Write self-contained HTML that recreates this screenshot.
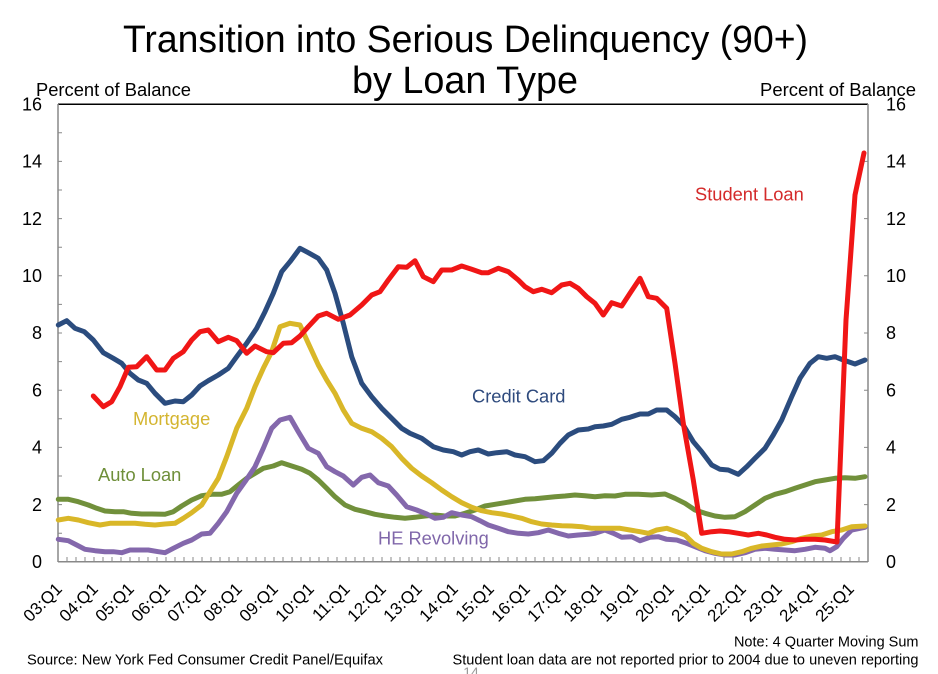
<!DOCTYPE html>
<html><head><meta charset="utf-8"><style>
html,body{margin:0;padding:0;background:#fff;}
svg{display:block;font-family:"Liberation Sans",Arial,sans-serif;}
</style></head><body>
<svg width="938" height="674" viewBox="0 0 938 674" xmlns="http://www.w3.org/2000/svg">
<rect width="938" height="674" fill="#fff"/>
<text x="465.5" y="52" font-size="38" text-anchor="middle" textLength="685" lengthAdjust="spacingAndGlyphs" fill="#000">Transition into Serious Delinquency (90+)</text>
<text x="465" y="93" font-size="38" text-anchor="middle" textLength="226" lengthAdjust="spacingAndGlyphs" fill="#000">by Loan Type</text>
<text x="36" y="96" font-size="18.5" textLength="155" lengthAdjust="spacingAndGlyphs" fill="#000">Percent of Balance</text>
<text x="760" y="96" font-size="18.5" textLength="156" lengthAdjust="spacingAndGlyphs" fill="#000">Percent of Balance</text>

<!-- axes -->
<line x1="58" y1="104.2" x2="868" y2="104.2" stroke="#000" stroke-width="1.5"/>
<line x1="58" y1="104" x2="58" y2="562" stroke="#888" stroke-width="1.5"/>
<line x1="868" y1="104" x2="868" y2="562" stroke="#888" stroke-width="1.5"/>
<line x1="58" y1="561.8" x2="868" y2="561.8" stroke="#888" stroke-width="1.5"/>
<g stroke="#888" stroke-width="1">
<path d="M58 561.8h4M58 533.2h4M58 504.6h4M58 476h4M58 447.4h4M58 418.8h4M58 390.2h4M58 361.6h4M58 333h4M58 304.4h4M58 275.8h4M58 247.2h4M58 218.6h4M58 190h4M58 161.4h4M58 132.8h4"/>
<path d="M868 504.6h-4M868 447.4h-4M868 390.2h-4M868 333h-4M868 275.8h-4M868 218.6h-4M868 161.4h-4"/>
<path d="M67 562v-5M76 562v-5M85 562v-5M94 562v-5M103 562v-5M112 562v-5M121 562v-5M130 562v-5M139 562v-5M148 562v-5M157 562v-5M166 562v-5M175 562v-5M184 562v-5M193 562v-5M202 562v-5M211 562v-5M220 562v-5M229 562v-5M238 562v-5M247 562v-5M256 562v-5M265 562v-5M274 562v-5M283 562v-5M292 562v-5M301 562v-5M310 562v-5M319 562v-5M328 562v-5M337 562v-5M346 562v-5M355 562v-5M364 562v-5M373 562v-5M382 562v-5M391 562v-5M400 562v-5M409 562v-5M418 562v-5M427 562v-5M436 562v-5M445 562v-5M454 562v-5M463 562v-5M472 562v-5M481 562v-5M490 562v-5M499 562v-5M508 562v-5M517 562v-5M526 562v-5M535 562v-5M544 562v-5M553 562v-5M562 562v-5M571 562v-5M580 562v-5M589 562v-5M598 562v-5M607 562v-5M616 562v-5M625 562v-5M634 562v-5M643 562v-5M652 562v-5M661 562v-5M670 562v-5M679 562v-5M688 562v-5M697 562v-5M706 562v-5M715 562v-5M724 562v-5M733 562v-5M742 562v-5M751 562v-5M760 562v-5M769 562v-5M778 562v-5M787 562v-5M796 562v-5M805 562v-5M814 562v-5M823 562v-5M832 562v-5M841 562v-5M850 562v-5M859 562v-5"/>
</g>

<!-- y tick labels -->
<g font-size="18" fill="#000" text-anchor="end">
<text x="42" y="568">0</text><text x="42" y="511">2</text><text x="42" y="453.5">4</text><text x="42" y="396.5">6</text>
<text x="42" y="339">8</text><text x="42" y="282">10</text><text x="42" y="225">12</text><text x="42" y="167.5">14</text><text x="42" y="110.5">16</text>
</g>
<g font-size="18" fill="#000">
<text x="886" y="568">0</text><text x="886" y="511">2</text><text x="886" y="453.5">4</text><text x="886" y="396.5">6</text>
<text x="886" y="339">8</text><text x="886" y="282">10</text><text x="886" y="225">12</text><text x="886" y="167.5">14</text><text x="886" y="110.5">16</text>
</g>

<!-- x labels -->
<g font-size="17" fill="#000" text-anchor="end">
<text transform="translate(63,590) rotate(-45)">03:Q1</text>
<text transform="translate(99,590) rotate(-45)">04:Q1</text>
<text transform="translate(135,590) rotate(-45)">05:Q1</text>
<text transform="translate(171,590) rotate(-45)">06:Q1</text>
<text transform="translate(207,590) rotate(-45)">07:Q1</text>
<text transform="translate(243,590) rotate(-45)">08:Q1</text>
<text transform="translate(279,590) rotate(-45)">09:Q1</text>
<text transform="translate(315,590) rotate(-45)">10:Q1</text>
<text transform="translate(351,590) rotate(-45)">11:Q1</text>
<text transform="translate(387,590) rotate(-45)">12:Q1</text>
<text transform="translate(423,590) rotate(-45)">13:Q1</text>
<text transform="translate(459,590) rotate(-45)">14:Q1</text>
<text transform="translate(495,590) rotate(-45)">15:Q1</text>
<text transform="translate(531,590) rotate(-45)">16:Q1</text>
<text transform="translate(567,590) rotate(-45)">17:Q1</text>
<text transform="translate(603,590) rotate(-45)">18:Q1</text>
<text transform="translate(639,590) rotate(-45)">19:Q1</text>
<text transform="translate(675,590) rotate(-45)">20:Q1</text>
<text transform="translate(711,590) rotate(-45)">21:Q1</text>
<text transform="translate(747,590) rotate(-45)">22:Q1</text>
<text transform="translate(783,590) rotate(-45)">23:Q1</text>
<text transform="translate(819,590) rotate(-45)">24:Q1</text>
<text transform="translate(855,590) rotate(-45)">25:Q1</text>
</g>

<!-- series -->
<g fill="none" stroke-width="5" stroke-linejoin="round" stroke-linecap="round">
<!-- Auto Loan -->
<polyline stroke="#71903B" points="58.3,499.3 68.3,499.3 78.3,501.7 88.3,505 96.7,508.3 105,511 115,511.7 123.3,511.7 131.7,513.3 141.7,514 151.7,514 165,514.3 173.3,511.7 181.7,506 191.7,500 201.7,495.7 211.7,494.3 221.7,494.3 230,491.7 238.3,485 246.7,478.3 255,473.3 263.3,468.3 273.3,466 281.7,462.7 291.7,466 301.7,469.3 310,473.3 318.3,480 326.7,488.3 335,496.7 345,505 355,509.3 365,511.7 375,514.3 385,516 395,517.3 405,518.3 415,517.3 425,516 435,515 445,516 455,516 465,513.3 475,510 485,506 495,504.3 505,502.7 515,501 525,499.3 535,498.7 545,497.7 555,496.7 565,496 575,495 585,495.7 595,496.7 605,495.7 615,496 625,494.3 638.3,494.3 651.7,495 665,494 675,498.3 685,503.3 695,510 705,513.3 715,516 725,517.3 735,516.7 745,511.7 755,505 765,498.3 775,494.3 785,491.7 795,488.3 805,485 815,481.7 825,480 835,478.3 845,477.7 855,478.3 865,476.7"/>
<!-- HE Revolving -->
<polyline stroke="#8468AC" points="58.3,539.3 68.3,540.7 76.7,545 85,549.3 95,550.7 105,551.7 113.3,551.7 121.7,552.7 130,550 140,550 148.3,550 158.3,551.7 165,552.7 173.3,548.3 183.3,543.3 191.7,540 201.7,534 210,533.3 218.3,523.3 226.7,511.7 236.7,493.3 245,481.7 255,466.7 263.3,448.3 271.7,428.3 280,420 290,417.3 298.3,431.7 308.3,448.3 318.3,453.3 326.7,466.7 335,471.7 343.3,476 353.3,485 361.7,477.3 370,475 378.3,482.7 388.3,486 396.7,495 406.7,506.7 416.7,510 426.7,514 435,518.3 443.3,517.3 451.7,512.7 461.7,515 471.7,516.7 480,520.7 488.3,525 498.3,528.3 508.3,531.7 518.3,533.3 528.3,534 538.3,532.7 548.3,530 558.3,533.3 568.3,536 578.3,535 588.3,534.3 595,533.3 605,530 613.3,533.3 621.7,537.3 631.7,536.7 640,540.7 650,537.3 658.3,536.7 666.7,539.3 676.7,540 685,542.7 695,546.7 705,550.7 715,553.3 725,555 735,555 745,552.7 755,549.3 765,548.3 775,549.3 785,550 795,550.7 805,549.3 815,547.3 825,548.3 830,550.7 836.7,546.7 843.3,538.3 851.7,530 865,527.3"/>
<!-- Mortgage -->
<polyline stroke="#D9B728" points="58.3,520 68.3,518.3 78.3,520 88.3,522.7 100,525 110,523.3 121.7,523.3 135,523.3 145,524.3 155,525 165,524 175,523.3 183.3,518.3 191.7,512.7 201.7,505 210,491.7 218.3,478.3 226.7,456.7 236.7,428.3 246.7,408.3 255,386.7 263.3,368.3 271.7,351.7 280,326.7 290,323.3 300,325 308.3,343.3 318.3,365 326.7,380 335,393.3 343.3,410 351.7,423.3 361.7,428.3 371.7,431.7 381.7,438.3 391.7,446.7 401.7,458.3 411.7,468.3 421.7,476 431.7,482.7 441.7,490 451.7,496.7 461.7,502.7 471.7,507.3 481.7,510.7 491.7,512.7 501.7,514 511.7,516 521.7,518.3 531.7,521.7 541.7,524 551.7,525 561.7,525.7 571.7,526 581.7,526.7 591.7,528.3 605,528.3 620,528.3 630,530 640,531.7 648.3,533.3 656.7,530 666.7,528.3 676.7,531.7 685,535 693.3,543.3 701.7,548.3 711.7,551.7 721.7,554 731.7,554 741.7,551.7 751.7,548.3 761.7,546 771.7,545 781.7,544 791.7,541.7 801.7,538.3 811.7,536 821.7,535 831.7,531.7 841.7,530 851.7,526.7 865,526"/>
<!-- Credit Card -->
<polyline stroke="#2B4C7E" points="58.3,325 66.7,320.7 75,328.3 84.3,331.7 93.3,340 103.3,352.7 113.3,358.3 121.7,363.3 130,373.3 138.3,380 146.7,383.3 155,393.3 165,403.3 175,401 183.3,401.7 191.7,395 200,386 208.3,380.7 218.3,375 228.3,368.3 236.7,356.7 246.7,343.3 256.7,328.3 265,311.7 273.3,293.3 281.7,271.7 290,261.7 300,248.3 308.3,252.7 318.3,258.3 326.7,270 335,293.3 343.3,323.3 351.7,356.7 361.7,383.3 371.7,396.7 381.7,408.3 391.7,418.3 401.7,428.3 410,433.3 421.7,438.3 433.3,446.7 443.3,450 453.3,451.7 461.7,455 470,451.7 478.3,450 488.3,454 496.7,452.7 506.7,451.7 515,455 525,456.7 535,461.7 543.3,460.7 551.7,453.3 560,443.3 568.3,435 578.3,430 588.3,429 595,426.7 603.3,426 611.7,424.3 621.7,419.3 630,417.3 640,414 648.3,414 656.7,410 666.7,410 675,416.7 683.3,425 693.3,441.7 701.7,451.7 711.7,465 720,469.3 728.3,470 738.3,474.3 746.7,466.7 755,458.3 765,448.3 773.3,435 781.7,420 791.7,396.7 800,378.3 810,363.3 818.3,356.7 826.7,358.3 835,356.7 843.3,360 855,364 865,360"/>
<!-- Student Loan -->
<polyline stroke="#F01616" points="93.3,396 103.3,406.7 111.7,401.7 120,386.7 128.3,367.3 136.7,366.7 146.7,356.7 156.7,370 165,370 173.3,358.3 183.3,351.7 191.7,340 200,331.7 208.3,330 218.3,341.7 228.3,337.3 236.7,340.7 246.7,353.3 255,346 266.7,351.7 273.3,352.7 283.3,343.3 291.7,342.7 300,336 308.3,326.7 318.3,316 326.7,313.3 338.3,319.3 350,315 361.7,305 371.7,295 380,291.7 388.3,280 398.3,266.7 406.7,267.3 415,260.7 423.3,276.7 433.3,281.7 441.7,270 451.7,270 461.7,266 471.7,269.3 481.7,272.7 488.3,272.7 498.3,268.3 508.3,271.7 518.3,280 525,286.7 533.3,291.7 541.7,289.3 551.7,292.7 561.7,285 570,283.3 578.3,288.3 586.7,296.7 595,303.3 603.3,315 611.7,302.7 621.7,306 630,293.3 640,278.3 648.3,296.7 656.7,298.3 666.7,308.3 675,363.3 683.3,423.3 693.3,480 701.7,533.3 711.7,531.7 720,531 728.3,531.7 738.3,533.3 748.3,535 758.3,533.3 766.7,535 775,537.3 785,539.3 795,540 805,539.3 815,539.3 825,540 837,542 846,320 855,195 864,153"/>
</g>

<!-- series labels -->
<text x="695" y="200.5" font-size="18.3" fill="#D42A2A">Student Loan</text>
<text x="472" y="402.5" font-size="18.3" fill="#2E4A7D">Credit Card</text>
<text x="133" y="425" font-size="18.3" fill="#D4B530">Mortgage</text>
<text x="98" y="481" font-size="18.3" fill="#6F8F3A">Auto Loan</text>
<text x="378" y="544.5" font-size="18.3" fill="#8067AA">HE Revolving</text>

<!-- footer -->
<text x="27" y="664.5" font-size="14.5" textLength="356" lengthAdjust="spacingAndGlyphs" fill="#000">Source: New York Fed Consumer Credit Panel/Equifax</text>
<text x="918.5" y="646.5" font-size="14.5" text-anchor="end" fill="#000">Note: 4 Quarter Moving Sum</text>
<text x="918.5" y="664.5" font-size="14.5" text-anchor="end" textLength="466" lengthAdjust="spacingAndGlyphs" fill="#000">Student loan data are not reported prior to 2004 due to uneven reporting</text>
<text x="471" y="677" font-size="14" text-anchor="middle" fill="#999">14</text>
</svg>
</body></html>
